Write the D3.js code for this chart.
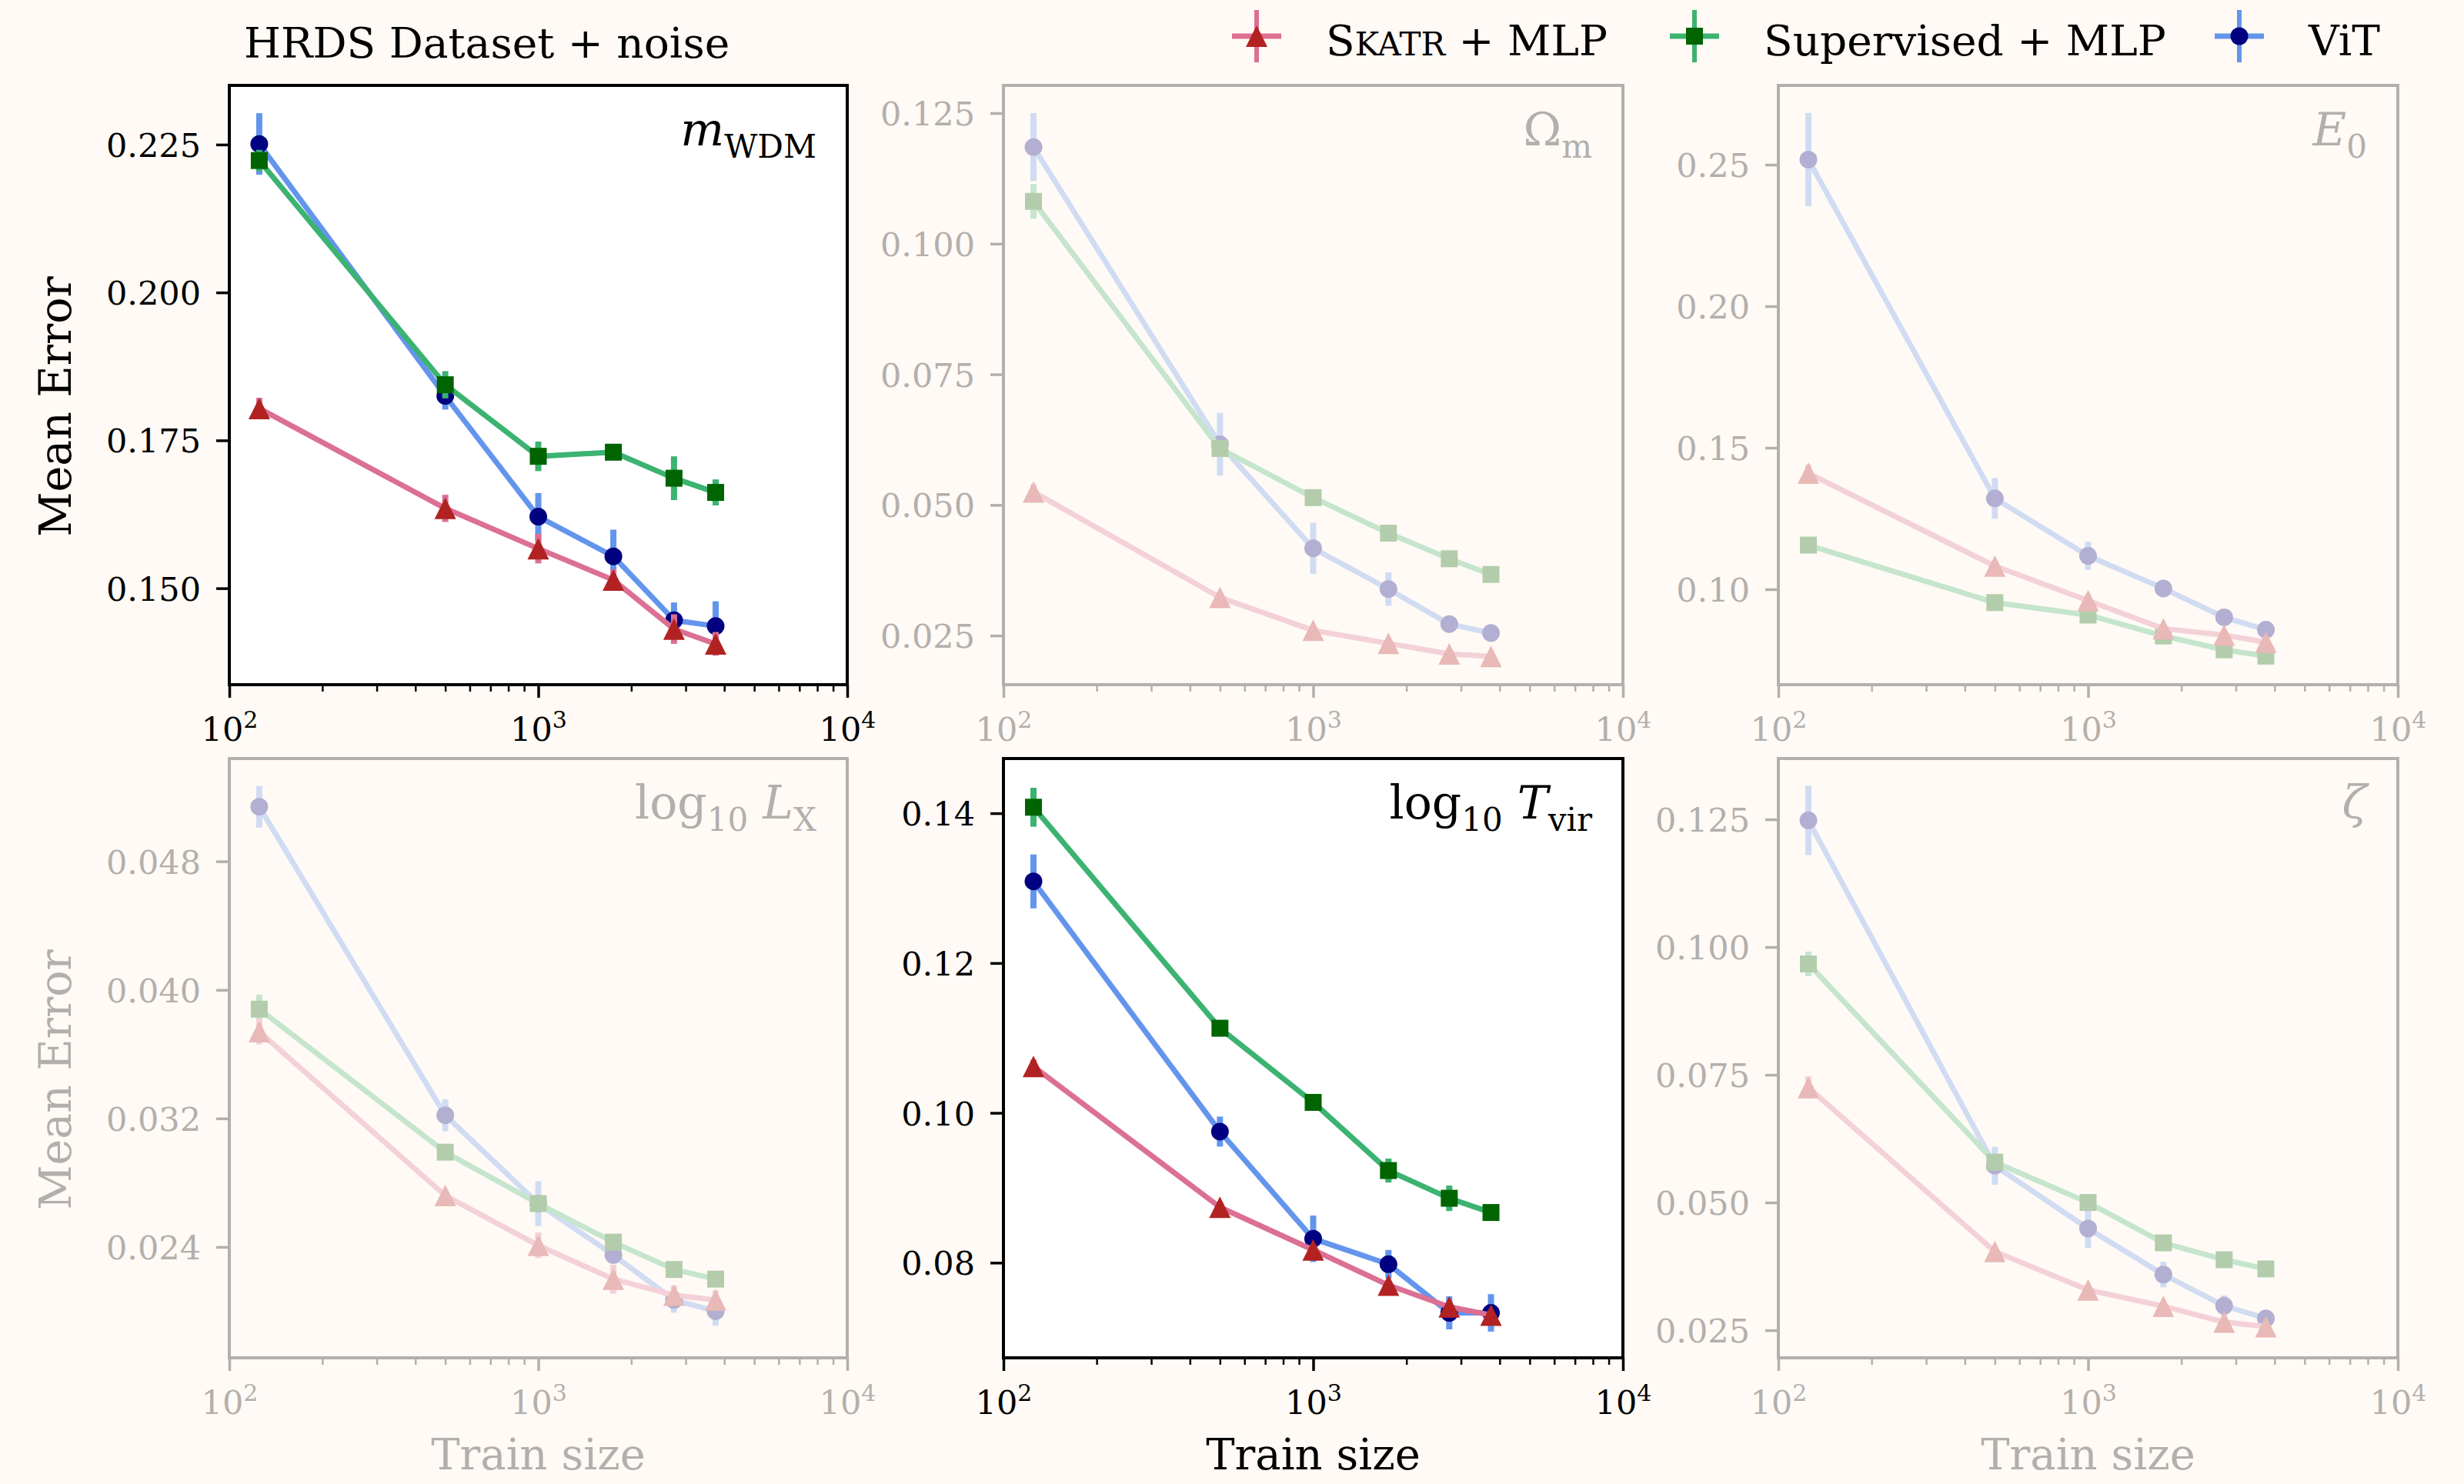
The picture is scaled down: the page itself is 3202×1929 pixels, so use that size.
<!DOCTYPE html>
<html><head><meta charset="utf-8">
<script src="https://cdn.jsdelivr.net/npm/d3@7"></script>
<style>body{margin:0;background:#fffaf5} svg{display:block}</style>
</head><body><svg id="c" width="3202" height="1929"></svg>
<script>
// ---------------- DATA ----------------
const trainSizes = [125, 500, 1000, 1750, 2750, 3750];
const seriesNames = ["SKATR + MLP", "Supervised + MLP", "ViT"];
const panelParams = ["mWDM", "Omega_m", "E0", "log10 LX", "log10 Tvir", "zeta"];
const highlighted = [true, false, false, false, true, false];

const yDomains = [[0.1337, 0.235], [0.0156, 0.1303], [0.0663, 0.278], [0.0171, 0.0544], [0.0673, 0.1473], [0.0196, 0.1369]];
const yTicks = [[0.150, 0.175, 0.200, 0.225], [0.025, 0.050, 0.075, 0.100, 0.125], [0.10, 0.15, 0.20, 0.25],
                [0.024, 0.032, 0.040, 0.048], [0.08, 0.10, 0.12, 0.14], [0.025, 0.050, 0.075, 0.100, 0.125]];
const yTickFormats = [".3f", ".3f", ".2f", ".3f", ".2f", ".3f"];
const xTicks = [100, 1000, 10000];

const skatrMean = [
  [0.1804, 0.1635, 0.1567, 0.1514, 0.1431, 0.1406],
  [0.0525, 0.0323, 0.0260, 0.0235, 0.0215, 0.0210],
  [0.1410, 0.1082, 0.0960, 0.0861, 0.0838, 0.0813],
  [0.0374, 0.0272, 0.0241, 0.0220, 0.0210, 0.0207],
  [0.1062, 0.0874, 0.0817, 0.0770, 0.0741, 0.0730],
  [0.0725, 0.0404, 0.0329, 0.0297, 0.0266, 0.0257]];
const skatrErr = [
  [0.0018, 0.0023, 0.0025, 0.0018, 0.0025, 0.0020],
  [0.0015, 0.0008, 0.0008, 0.0006, 0.0006, 0.0005],
  [0.0030, 0.0020, 0.0020, 0.0015, 0.0015, 0.0012],
  [0.0008, 0.0004, 0.0008, 0.0009, 0.0006, 0.0006],
  [0.0009, 0.0007, 0.0007, 0.0006, 0.0006, 0.0005],
  [0.0022, 0.0010, 0.0008, 0.0006, 0.0006, 0.0005]];
const supMean = [
  [0.2223, 0.1844, 0.1723, 0.1730, 0.1686, 0.1662],
  [0.1081, 0.0608, 0.0514, 0.0446, 0.0397, 0.0367],
  [0.1156, 0.0953, 0.0909, 0.0835, 0.0786, 0.0764],
  [0.0388, 0.0299, 0.0267, 0.0243, 0.0226, 0.0220],
  [0.1408, 0.1113, 0.1014, 0.0923, 0.0886, 0.0867],
  [0.0967, 0.0579, 0.0500, 0.0421, 0.0388, 0.0370]];
const supErr = [
  [0.0018, 0.0023, 0.0025, 0.0008, 0.0037, 0.0022],
  [0.0033, 0.0010, 0.0008, 0.0006, 0.0006, 0.0005],
  [0.0015, 0.0012, 0.0012, 0.0010, 0.0010, 0.0008],
  [0.0009, 0.0003, 0.0003, 0.0003, 0.0003, 0.0003],
  [0.0026, 0.0006, 0.0006, 0.0016, 0.0017, 0.0006],
  [0.0024, 0.0010, 0.0008, 0.0006, 0.0006, 0.0005]];
const vitMean = [
  [0.2251, 0.1825, 0.1621, 0.1554, 0.1446, 0.1436],
  [0.1185, 0.0616, 0.0417, 0.0339, 0.0272, 0.0255],
  [0.2518, 0.1321, 0.1118, 0.1003, 0.0901, 0.0857],
  [0.0514, 0.0322, 0.0267, 0.0235, 0.0207, 0.0200],
  [0.1309, 0.0975, 0.0832, 0.0798, 0.0733, 0.0733],
  [0.1248, 0.0572, 0.0449, 0.0359, 0.0298, 0.0273]];
const vitErr = [
  [0.0052, 0.0023, 0.0040, 0.0045, 0.0030, 0.0042],
  [0.0065, 0.0060, 0.0049, 0.0032, 0.0010, 0.0008],
  [0.0165, 0.0072, 0.0050, 0.0030, 0.0020, 0.0015],
  [0.0013, 0.0010, 0.0014, 0.0005, 0.0008, 0.0009],
  [0.0036, 0.0020, 0.0031, 0.0019, 0.0022, 0.0025],
  [0.0068, 0.0037, 0.0038, 0.0025, 0.0020, 0.0010]];

// ---------------- STYLE / LAYOUT ----------------
const BG = "#fffaf5";
const FONT = "'DejaVu Serif', serif";
const colX = [[298, 1101], [1304, 2109], [2311, 3116]];
const rowY = [[111, 890], [986, 1765]];
const fade = c => d3.interpolateRgb(BG, c)(0.3);

const series = [
  {name: "ViT", mean: vitMean, err: vitErr, line: "#6495ED", mark: "#000080", shape: "circle"},
  {name: "Supervised + MLP", mean: supMean, err: supErr, line: "#3CB371", mark: "#006400", shape: "square"},
  {name: "SKATR + MLP", mean: skatrMean, err: skatrErr, line: "#DB7093", mark: "#B22222", shape: "triangle"}
];

const svg = d3.select("#c");
svg.append("rect").attr("width", 3202).attr("height", 1929).attr("fill", BG);

function markerPath(shape) {
  if (shape === "circle") return d3.symbol(d3.symbolCircle, Math.PI * 11.5 * 11.5)();
  if (shape === "square") return d3.symbol(d3.symbolSquare, 22 * 22)();
  return "M0,-14L14,14L-14,14Z";
}

function panelLabel(g, i, x, y, color) {
  const t = g.append("text").attr("x", x).attr("y", y).attr("text-anchor", "end")
    .attr("font-family", FONT).attr("font-size", 60).attr("fill", color);
  const sub = (s) => t.append("tspan").attr("font-size", 42).attr("dy", 16).text(s);
  if (i === 0) { t.append("tspan").attr("font-style", "italic").text("m"); sub("WDM"); }
  if (i === 1) { t.append("tspan").text("Ω"); sub("m"); }
  if (i === 2) { t.append("tspan").attr("font-style", "italic").text("E"); sub("0"); }
  if (i === 3 || i === 4) {
    t.append("tspan").text("log"); sub("10");
    t.append("tspan").attr("dy", -16).text(" ");
    t.append("tspan").attr("font-style", "italic").text(i === 3 ? "L" : "T");
    sub(i === 3 ? "X" : "vir");
  }
  if (i === 5) { t.append("tspan").attr("font-style", "italic").text("ζ"); }
}

for (let i = 0; i < 6; i++) {
  const r = Math.floor(i / 3), c = i % 3;
  const [x0, x1] = colX[c], [y0, y1] = rowY[r];
  const hi = highlighted[i];
  const ink = hi ? "#000" : fade("#000");
  const x = d3.scaleLog().domain([100, 10000]).range([x0, x1]);
  const y = d3.scaleLinear().domain(yDomains[i]).range([y1, y0]);
  const g = svg.append("g");

  g.append("rect").attr("x", x0).attr("y", y0).attr("width", x1 - x0).attr("height", y1 - y0)
    .attr("fill", hi ? "#ffffff" : BG);

  // y axis
  const ya = g.append("g").attr("transform", `translate(${x0},0)`)
    .call(d3.axisLeft(y).tickValues(yTicks[i]).tickFormat(d3.format(yTickFormats[i])).tickSize(17).tickPadding(20));
  ya.select(".domain").remove();
  ya.selectAll(".tick line").attr("stroke", ink).attr("stroke-width", 3.5);
  ya.selectAll(".tick text").attr("fill", ink).attr("font-family", FONT).attr("font-size", 43).attr("dy", "0.36em");

  // x axis minor
  const minor = [];
  [100, 1000].forEach(d => { for (let k = 2; k <= 9; k++) minor.push(d * k); });
  const xm = g.append("g").attr("transform", `translate(0,${y1})`)
    .call(d3.axisBottom(x).tickValues(minor).tickFormat("").tickSize(9));
  xm.select(".domain").remove();
  xm.selectAll(".tick line").attr("stroke", ink).attr("stroke-width", 2.5);
  // x axis major
  const xa = g.append("g").attr("transform", `translate(0,${y1})`)
    .call(d3.axisBottom(x).tickValues(xTicks).tickFormat("").tickSize(17).tickPadding(14));
  xa.select(".domain").remove();
  xa.selectAll(".tick line").attr("stroke", ink).attr("stroke-width", 3.5);
  xa.selectAll(".tick text").attr("fill", ink).attr("font-family", FONT).attr("font-size", 43)
    .attr("dy", null).attr("y", 73)
    .each(function (d) {
      const t = d3.select(this);
      t.append("tspan").text("10");
      t.append("tspan").attr("font-size", 30).attr("dy", -17).text(Math.round(Math.log10(d)));
    });

  // series
  const clipId = "clip" + i;
  g.append("clipPath").attr("id", clipId).append("rect")
    .attr("x", x0).attr("y", y0).attr("width", x1 - x0).attr("height", y1 - y0);
  const dg = g.append("g").attr("clip-path", `url(#${clipId})`);
  series.forEach(s => {
    const lineC = hi ? s.line : fade(s.line);
    const markC = hi ? s.mark : fade(s.mark);
    const pts = trainSizes.map((t, k) => ({t, m: s.mean[i][k], e: s.err[i][k]}));
    dg.append("path").datum(pts)
      .attr("d", d3.line().x(d => x(d.t)).y(d => y(d.m)))
      .attr("fill", "none").attr("stroke", lineC).attr("stroke-width", 7).attr("stroke-linejoin", "round");
    dg.selectAll(null).data(pts).join("line")
      .attr("x1", d => x(d.t)).attr("x2", d => x(d.t))
      .attr("y1", d => y(d.m - d.e)).attr("y2", d => y(d.m + d.e))
      .attr("stroke", lineC).attr("stroke-width", 8);
    dg.selectAll(null).data(pts).join("path")
      .attr("d", markerPath(s.shape))
      .attr("transform", d => `translate(${x(d.t)},${y(d.m)})`)
      .attr("fill", markC);
  });

  // frame
  g.append("rect").attr("x", x0).attr("y", y0).attr("width", x1 - x0).attr("height", y1 - y0)
    .attr("fill", "none").attr("stroke", ink).attr("stroke-width", 4);

  panelLabel(g, i, x1 - 40, y0 + 78, ink);

  if (c === 0) {
    const cy = (y0 + y1) / 2 + 28;
    g.append("text").attr("transform", `translate(92,${cy}) rotate(-90)`)
      .attr("text-anchor", "middle").attr("font-family", FONT).attr("font-size", 57)
      .attr("fill", ink).text("Mean Error");
  }
  if (r === 1) {
    g.append("text").attr("x", (x0 + x1) / 2).attr("y", 1910).attr("text-anchor", "middle")
      .attr("font-family", FONT).attr("font-size", 56).attr("fill", ink).text("Train size");
  }
}

// title
svg.append("text").attr("x", 317).attr("y", 75).attr("font-family", FONT).attr("font-size", 55)
  .attr("fill", "#000").text("HRDS Dataset + noise");

// legend
const legendItems = [
  {label: "SKATR", line: "#DB7093", mark: "#B22222", shape: "triangle", cx: 1633},
  {label: "Supervised + MLP", line: "#3CB371", mark: "#006400", shape: "square", cx: 2202},
  {label: "ViT", line: "#6495ED", mark: "#000080", shape: "circle", cx: 2910}
];
const lg = svg.append("g");
legendItems.forEach(it => {
  const cy = 47;
  lg.append("line").attr("x1", it.cx - 32).attr("x2", it.cx + 32).attr("y1", cy).attr("y2", cy)
    .attr("stroke", it.line).attr("stroke-width", 7);
  lg.append("line").attr("x1", it.cx).attr("x2", it.cx).attr("y1", 13).attr("y2", 81)
    .attr("stroke", it.line).attr("stroke-width", 6);
  lg.append("path").attr("d", markerPath(it.shape)).attr("transform", `translate(${it.cx},${cy})`).attr("fill", it.mark);
  const t = lg.append("text").attr("x", it.cx + 90).attr("y", 72).attr("font-family", FONT).attr("font-size", 55);
  if (it.label === "SKATR") {
    t.append("tspan").text("S");
    t.append("tspan").attr("font-size", 42).text("KATR");
    t.append("tspan").text(" + MLP");
  } else t.text(it.label);
});
</script></body></html>
